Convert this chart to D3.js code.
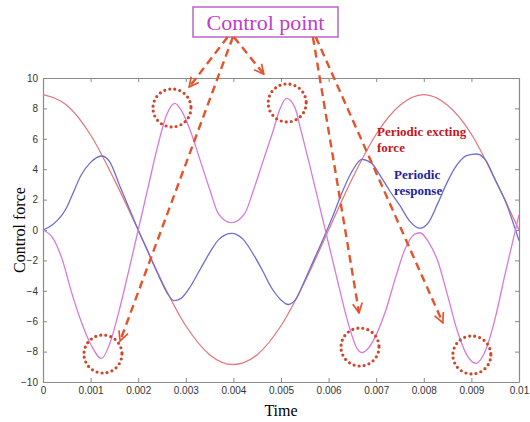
<!DOCTYPE html>
<html>
<head>
<meta charset="utf-8">
<script src="https://cdn.jsdelivr.net/npm/d3@7"></script>
<style>
  body { margin: 0; background: #fff; }
  svg { display: block; }
</style>
</head>
<body>
<div id="chart"></div>
<script>
// values (time in s, force)
const forceT = [0, 0.0005, 0.001, 0.0015, 0.002, 0.0025, 0.003, 0.0035, 0.004, 0.0045, 0.005, 0.0055, 0.006, 0.0065, 0.007, 0.0075, 0.008, 0.0085, 0.009, 0.0095, 0.01];
const forceV = [8.9, 8.2, 6.25, 3.3, 0, -3.4, -6.3, -8.2, -8.85, -8.2, -6.3, -3.4, 0, 3.4, 6.3, 8.2, 8.9, 8.2, 6.3, 3.3, 0];

const respT = [0, 0.0002, 0.0004, 0.0005, 0.0006, 0.0008, 0.001, 0.00123, 0.0014, 0.0016, 0.0018, 0.002, 0.0022, 0.0024, 0.0026, 0.00275, 0.0029, 0.0031, 0.0033, 0.0035, 0.0037, 0.00396, 0.0042, 0.0044, 0.0046, 0.0048, 0.005, 0.00515, 0.0053, 0.0055, 0.0057, 0.0059, 0.0061, 0.0063, 0.0065, 0.0067, 0.0069, 0.0071, 0.0073, 0.0075, 0.0077, 0.00792, 0.0081, 0.0083, 0.0085, 0.0087, 0.0089, 0.00911, 0.0093, 0.0095, 0.0097, 0.01];
const respV = [0, 0.35, 1.0, 1.5, 2.2, 3.6, 4.45, 4.87, 4.5, 3.0, 1.5, 0, -1.4, -2.8, -4.1, -4.65, -4.5, -3.7, -2.6, -1.5, -0.6, -0.22, -0.6, -1.5, -2.6, -3.8, -4.6, -4.9, -4.6, -3.3, -1.9, -0.5, 1.0, 2.6, 3.9, 4.65, 4.4, 3.5, 2.5, 1.6, 0.6, 0.11, 0.5, 1.8, 3.2, 4.3, 4.9, 5.0, 4.6, 3.3, 2.0, -0.7];

const ctrlT = [0, 0.0002, 0.0004, 0.0006, 0.0008, 0.001, 0.00123, 0.0014, 0.0016, 0.0018, 0.002, 0.0022, 0.0024, 0.0026, 0.00277, 0.0029, 0.00309, 0.0033, 0.00351, 0.00368, 0.00396, 0.00424, 0.00442, 0.00463, 0.00484, 0.00497, 0.00512, 0.0053, 0.0054, 0.0056, 0.0058, 0.006, 0.0062, 0.0064, 0.0066, 0.0067, 0.0068, 0.007, 0.0072, 0.0074, 0.0076, 0.0078, 0.00792, 0.0081, 0.0083, 0.0085, 0.0087, 0.0089, 0.0091, 0.0093, 0.0095, 0.0097, 0.01];
const ctrlV = [0, -0.5, -1.9, -4.1, -6.0, -7.5, -8.45, -7.5, -5.3, -2.7, 0, 2.7, 5.4, 7.6, 8.33, 7.9, 6.58, 4.6, 2.6, 1.1, 0.48, 1.1, 2.6, 4.6, 6.58, 7.9, 8.66, 8.0, 6.8, 4.3, 1.7, -0.9, -3.5, -6.0, -7.8, -8.07, -7.9, -6.9, -5.3, -3.2, -1.3, -0.3, -0.18, -0.8, -2.1, -4.3, -6.6, -8.2, -8.77, -7.9, -5.8, -3.0, 1.0];

const xTicks = [0, 0.001, 0.002, 0.003, 0.004, 0.005, 0.006, 0.007, 0.008, 0.009, 0.01];
const xTickLabels = ["0", "0.001", "0.002", "0.003", "0.004", "0.005", "0.006", "0.007", "0.008", "0.009", "0.01"];
const yTicks = [-10, -8, -6, -4, -2, 0, 2, 4, 6, 8, 10];

// control point circles and arrow tips (data units)
const circleT = [0.00271, 0.00513, 0.00126, 0.00666, 0.00901];
const circleV = [8.03, 8.36, -8.16, -7.7, -8.22];
const arrowFromT = [0.00388, 0.00401, 0.00399, 0.00567, 0.00573];
const arrowFromV = [12.7, 12.7, 12.7, 12.7, 12.7];
const arrowToT = [0.00307, 0.00464, 0.00162, 0.00664, 0.00840];
const arrowToV = [9.4, 10.25, -7.3, -5.45, -6.1];

const width = 530, height = 422;
const margin = {top: 78, right: 11, bottom: 40, left: 43};

const svg = d3.select("#chart").append("svg")
    .attr("width", width)
    .attr("height", height);

const x = d3.scaleLinear().domain([0, 0.01]).range([margin.left, width - margin.right]);
const y = d3.scaleLinear().domain([-10, 10]).range([height - margin.bottom, margin.top]);

// axes, matlab style box with inward ticks
const axisColor = "#8a8a8a";
const fmt = d => xTickLabels[xTicks.indexOf(d)];

const gx = svg.append("g")
    .attr("transform", `translate(0,${y(-10)})`)
    .call(d3.axisBottom(x).tickValues(xTicks).tickFormat(fmt).tickSizeInner(-4).tickSizeOuter(0).tickPadding(5));
const gxTop = svg.append("g")
    .attr("transform", `translate(0,${y(10)})`)
    .call(d3.axisTop(x).tickValues(xTicks).tickFormat("").tickSizeInner(-4).tickSizeOuter(0));
const gy = svg.append("g")
    .attr("transform", `translate(${x(0)},0)`)
    .call(d3.axisLeft(y).tickValues(yTicks).tickSizeInner(-4).tickSizeOuter(0).tickPadding(5));
const gyR = svg.append("g")
    .attr("transform", `translate(${x(0.01)},0)`)
    .call(d3.axisRight(y).tickValues(yTicks).tickFormat("").tickSizeInner(-4).tickSizeOuter(0));

[gx, gxTop, gy, gyR].forEach(g => {
    g.select(".domain").attr("stroke", axisColor).attr("stroke-width", 1.2);
    g.selectAll(".tick line").attr("stroke", axisColor);
    g.selectAll("text")
        .attr("fill", "#333")
        .style("font-family", "'Liberation Sans', Arial, sans-serif")
        .style("font-size", "10px");
});

// curves
const line = d3.line()
    .x(d => x(d[0]))
    .y(d => y(d[1]))
    .curve(d3.curveMonotoneX);

const series = [
    {t: forceT, v: forceV, color: "#e27a80"},
    {t: respT, v: respV, color: "#6e6ed2"},
    {t: ctrlT, v: ctrlV, color: "#d77ada"}
];

series.forEach(s => {
    svg.append("path")
        .datum(s.t.map((t, i) => [t, s.v[i]]))
        .attr("fill", "none")
        .attr("stroke", s.color)
        .attr("stroke-width", 1.3)
        .attr("d", line);
});

// axis labels
const serif = "'Liberation Serif', 'Times New Roman', serif";
svg.append("text")
    .attr("x", (x(0) + x(0.01)) / 2)
    .attr("y", 416)
    .attr("text-anchor", "middle")
    .style("font-family", serif)
    .style("font-size", "16px")
    .text("Time");

svg.append("text")
    .attr("transform", `translate(25,${y(0)}) rotate(-90)`)
    .attr("text-anchor", "middle")
    .style("font-family", serif)
    .style("font-size", "16px")
    .text("Control force");

// series labels
svg.append("text").attr("x", 377).attr("y", 136)
    .attr("fill", "#c4161e").style("font-family", serif).style("font-size", "13px").style("font-weight", "bold")
    .text("Periodic excting");
svg.append("text").attr("x", 377).attr("y", 152)
    .attr("fill", "#c4161e").style("font-family", serif).style("font-size", "13px").style("font-weight", "bold")
    .text("force");
svg.append("text").attr("x", 394).attr("y", 179)
    .attr("fill", "#1e1e9e").style("font-family", serif).style("font-size", "13px").style("font-weight", "bold")
    .text("Periodic");
svg.append("text").attr("x", 394).attr("y", 195)
    .attr("fill", "#1e1e9e").style("font-family", serif).style("font-size", "13px").style("font-weight", "bold")
    .text("response");

// "Control point" box
svg.append("rect")
    .attr("x", 193).attr("y", 7)
    .attr("width", 145).attr("height", 30)
    .attr("fill", "#fff")
    .attr("stroke", "#b866c4")
    .attr("stroke-width", 1.5);
svg.append("text")
    .attr("x", 265.5).attr("y", 30)
    .attr("text-anchor", "middle")
    .attr("fill", "#c23cc4")
    .style("font-family", serif)
    .style("font-size", "22px")
    .text("Control point");

// dashed arrows
const arrowColor = "#e4542c";
svg.append("defs").append("marker")
    .attr("id", "head")
    .attr("viewBox", "0 0 10 10")
    .attr("refX", 9).attr("refY", 5)
    .attr("markerWidth", 5).attr("markerHeight", 5)
    .attr("markerUnits", "strokeWidth")
    .attr("orient", "auto")
  .append("path")
    .attr("d", "M1,1 L9,5 L1,9")
    .attr("fill", "none")
    .attr("stroke", arrowColor)
    .attr("stroke-width", 1.4);

arrowFromT.forEach((t0, i) => {
    svg.append("line")
        .attr("x1", x(t0)).attr("y1", y(arrowFromV[i]))
        .attr("x2", x(arrowToT[i])).attr("y2", y(arrowToV[i]))
        .attr("stroke", arrowColor)
        .attr("stroke-width", 2.4)
        .attr("stroke-dasharray", "8,5")
        .attr("marker-end", "url(#head)");
});

// dotted circles
circleT.forEach((t, i) => {
    svg.append("circle")
        .attr("cx", x(t)).attr("cy", y(circleV[i]))
        .attr("r", 19)
        .attr("fill", "none")
        .attr("stroke", "#d2452a")
        .attr("stroke-width", 3.2)
        .attr("stroke-linecap", "round")
        .attr("stroke-dasharray", "0,5.1");
});
</script>
</body>
</html>
